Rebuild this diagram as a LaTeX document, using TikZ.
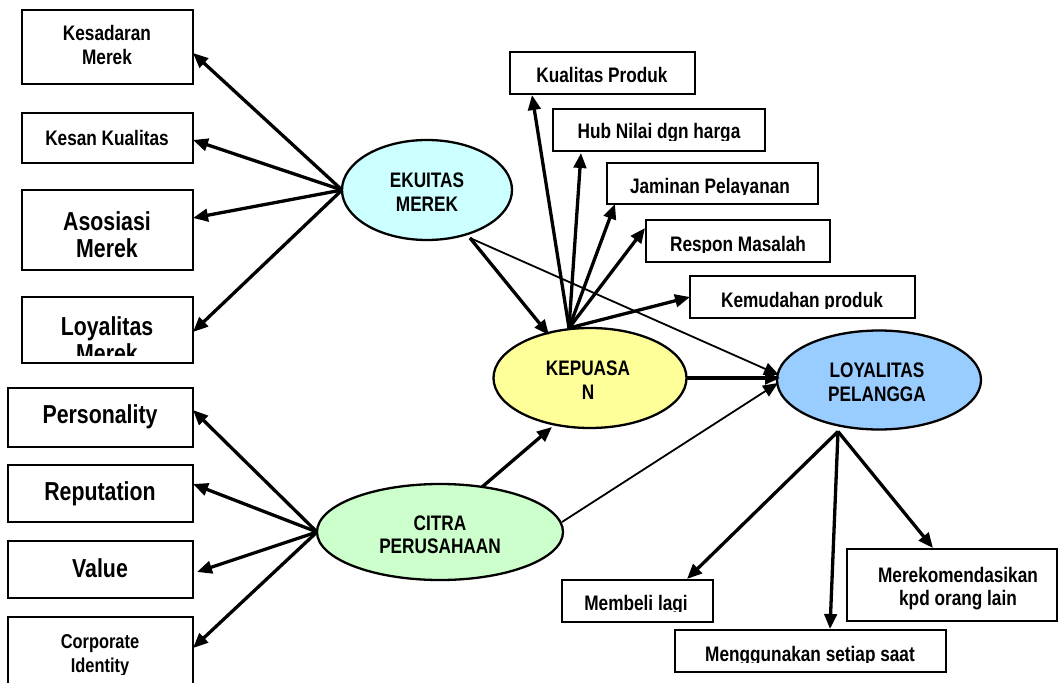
\documentclass[tikz,border=0pt]{standalone}
\usepackage{fontspec}
\setmainfont{Liberation Sans}[FakeStretch=0.82]
\usetikzlibrary{arrows.meta,shapes.geometric,calc}
\definecolor{ekfill}{HTML}{CCFFFF}
\definecolor{kepfill}{HTML}{FFFF99}
\definecolor{loyfill}{HTML}{99CCFF}
\definecolor{citfill}{HTML}{CCFFCC}
\newcommand\mybox[5]{\node[box,anchor=north west,minimum width={#4-#2},minimum height={#5-#3}] (#1) at (#2,#3) {};}
\begin{document}
\begin{tikzpicture}[x=1pt,y=-1pt,
  box/.style={draw,line width=2.3pt,fill=white,inner sep=0pt,outer sep=0pt},
  ell/.style={draw,line width=2.3pt,ellipse,inner sep=0pt,outer sep=0pt},
  tx/.style={font=\bfseries\fontsize{21}{25}\selectfont,inner sep=0pt,anchor=base},
  txb/.style={font=\bfseries\fontsize{26}{30}\selectfont,inner sep=0pt,anchor=base},
  txs/.style={font=\bfseries\fontsize{20}{24}\selectfont,inner sep=0pt,anchor=base},
  thickarr/.style={line width=3.3pt,-{Triangle[length=15pt,width=12.5pt]}},
  thinarr/.style={line width=1.8pt,-{Triangle[length=15pt,width=12.5pt]}},
]
\useasboundingbox (0,0) rectangle (1059,682);
\clip (0,0) rectangle (1059,682);

% left boxes (brand equity)
\mybox{kes}{22}{10}{193}{84}
\mybox{kk}{22}{113}{193}{163}
\mybox{aso}{22}{190}{193}{270}
\mybox{loy}{22}{297}{193}{363}
% left boxes (corporate image)
\mybox{per}{8}{388}{193}{447}
\mybox{rep}{8}{465}{193}{522}
\mybox{val}{8}{541}{193}{598}
\mybox{cor}{8}{617}{193}{700}
% satisfaction boxes
\mybox{kp}{510}{52}{695}{94}
\mybox{hub}{553}{109}{765}{151}
\mybox{jam}{607}{163}{818}{204}
\mybox{res}{646}{220}{830}{262}
\mybox{kem}{690}{276}{915}{318}
% loyalty boxes
\mybox{mem}{562}{580}{713}{622}
\mybox{men}{675}{630}{946}{672}
\mybox{rek}{847}{549}{1057}{621}

% ellipses
\node[ell,fill=ekfill,minimum width=170,minimum height=100] (ek) at (427,190) {};
\node[ell,fill=kepfill,minimum width=193,minimum height=100] (kep) at (590,378) {};
\node[ell,fill=loyfill,minimum width=204,minimum height=99] (loyp) at (879,380) {};
\node[ell,fill=citfill,minimum width=246,minimum height=96] (cit) at (440,532) {};

% texts
\node[tx] (kes1) at (107,40.5) {Kesadaran};
\node[tx] (kes2) at (107,64.5) {Merek};
\node[tx] (kk1) at (107,145) {Kesan Kualitas};
\node[txb] (aso1) at (107,230) {Asosiasi};
\node[txb] (aso2) at (107,257) {Merek};
\begin{scope}
  \clip (22,297) rectangle (193,355);
  \node[txb] (loy1) at (107,335) {Loyalitas};
  \node[txb] (loy2) at (107,362) {Merek};
\end{scope}
\node[txb] (per1) at (100,423) {Personality};
\node[txb] (rep1) at (100,500) {Reputation};
\node[txb] (val1) at (100,577) {Value};
\begin{scope}
  \clip (8,617) rectangle (193,674);
  \node[txs] (cor1) at (100,648) {Corporate};
  \node[txs] (cor2) at (100,672) {Identity};
\end{scope}
\node[tx] (kp1) at (602,83) {Kualitas Produk};
\begin{scope}
  \clip (553,109) rectangle (765,140);
  \node[tx] (hub1) at (659,139) {Hub Nilai dgn harga};
\end{scope}
\begin{scope}
  \clip (607,163) rectangle (818,194);
  \node[tx] (jam1) at (710,193) {Jaminan Pelayanan};
\end{scope}
\begin{scope}
  \clip (646,220) rectangle (830,252);
  \node[tx] (res1) at (738,251) {Respon Masalah};
\end{scope}
\begin{scope}
  \clip (690,276) rectangle (915,308);
  \node[tx] (kem1) at (802,307) {Kemudahan produk};
\end{scope}
\begin{scope}
  \clip (562,580) rectangle (713,611);
  \node[tx] (mem1) at (636,610) {Membeli lagi};
\end{scope}
\begin{scope}
  \clip (675,630) rectangle (946,662);
  \node[tx] (men1) at (810,661) {Menggunakan setiap saat};
\end{scope}
\node[tx] (rek1) at (958,582) {Merekomendasikan};
\node[tx] (rek2) at (958,605) {kpd orang lain};

\node[tx] (ek1) at (427,187) {EKUITAS};
\node[tx] (ek2) at (427,211) {MEREK};
\node[tx] (kep1) at (588,375) {KEPUASA};
\node[tx] (kep2) at (588,399) {N};
\node[tx] (loyp1) at (877,377) {LOYALITAS};
\node[tx] (loyp2) at (877,401) {PELANGGA};
\node[tx] (cit1) at (440,530) {CITRA};
\node[tx] (cit2) at (440,553) {PERUSAHAAN};

% brand equity fan
\draw[thickarr] (ek.west) -- ([yshift=-6pt]kes.east);
\draw[thickarr] (ek.west) -- ([yshift=-2pt]kk.east);
\draw[thickarr] (ek.west) -- ([yshift=12pt]aso.east);
\draw[thickarr] (ek.west) -- ([yshift=-2pt]loy.east);
% corporate image fan
\draw[thickarr] (cit.west) -- ([yshift=7.5pt]per.east);
\draw[thickarr] (cit.west) -- ([yshift=9.5pt]rep.east);
\draw[thickarr] (cit.west) -- ([xshift=4pt,yshift=-2.5pt]val.east);
\draw[thickarr] (cit.west) -- ([yshift=10.5pt]cor.east);
% equity -> satisfaction, loyalty
\draw[thickarr] ($(ek.center)+(43,48)$) -- ($(kep.north)+(-41,7)$);
\draw[thinarr] ($(ek.center)+(43,48)$) -- ($(loyp.west)+(2,-5)$);
% satisfaction fan
\draw[thickarr] ($(kep.north)+(-21,0)$) -- ($(kp.south west)+(22,1)$);
\draw[thickarr] ($(kep.north)+(-21,0)$) -- ($(hub.south west)+(28,2)$);
\draw[thickarr] ($(kep.north)+(-21,0)$) -- ($(jam.south west)+(8,0)$);
\draw[thickarr] ($(kep.north)+(-21,0)$) -- ($(res.north west)+(-1,8)$);
\draw[thickarr] ($(kep.north)+(-21,0)$) -- (kem.west);
% satisfaction -> loyalty
\draw[thickarr] (kep.east) -- ($(loyp.west)+(3,-2)$);
% image -> satisfaction, loyalty
\draw[thickarr] ($(cit.north)+(42,3)$) -- ($(kep.south)+(-38,-1)$);
\draw[thinarr] ($(cit.east)+(-1,-10)$) -- ($(loyp.west)+(1,3)$);
% loyalty fan
\draw[thickarr] ($(loyp.south)+(-41,2)$) -- ($(mem.north east)+(-26,-1)$);
\draw[thickarr] ($(loyp.south)+(-41,2)$) -- ($(men.north west)+(155,-1)$);
\draw[thickarr] ($(loyp.south)+(-41,2)$) -- ($(rek.north west)+(86,-1)$);
\end{tikzpicture}
\end{document}
